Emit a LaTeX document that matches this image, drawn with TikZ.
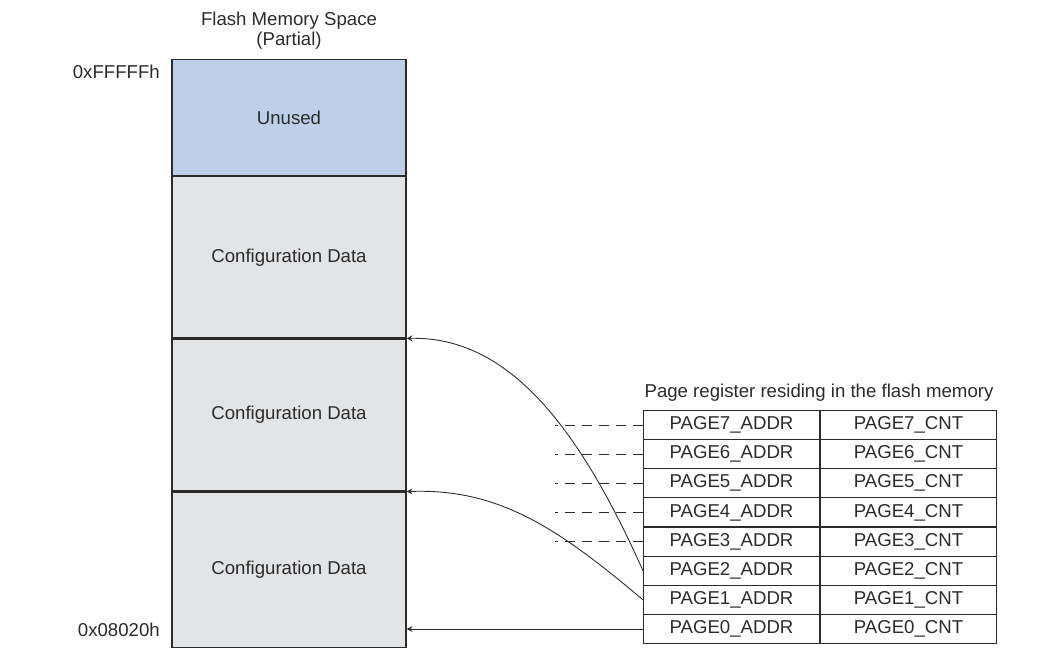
\documentclass[tikz,border=0pt]{standalone}
\usepackage{fontspec}
\setmainfont{Liberation Sans}
\usetikzlibrary{calc}
\definecolor{unusedblue}{HTML}{BDD0E7}
\definecolor{cfggray}{HTML}{E3E4E6}
\definecolor{inkgray}{HTML}{2B2B2B}
\tikzset{
  memblk/.style={draw=inkgray, line width=0.7pt, minimum width=4.68cm, anchor=north, inner sep=0pt},
  regcell/.style={draw=inkgray, line width=0.6pt, minimum width=3.52cm, minimum height=0.5825cm, anchor=north west, inner sep=0pt},
  dashline/.style={dash pattern=on 5.7pt off 4pt, draw=inkgray, line width=0.6pt},
  link/.style={->, draw=inkgray, line width=0.5pt}
}
\begin{document}
\begin{tikzpicture}[x=0.02cm, y=-0.02cm, >=stealth, font=\fontsize{10.6}{12}\selectfont, text=inkgray]

            \useasboundingbox (0,0) rectangle (1051,662);

            % flash memory space
            \node[align=center, font=\fontsize{10.6}{11.5}\selectfont] (title) at (289,31) {Flash Memory Space\\(Partial)};
            \coordinate (top) at (289,59);
            \node[memblk, fill=unusedblue, minimum height=2.32cm] (unused) at (top) {Unused};
            \node[memblk, fill=cfggray, minimum height=3.22cm] (cfgA) at (unused.south) {Configuration Data};
            \node[memblk, fill=cfggray, minimum height=3.04cm] (cfgB) at (cfgA.south) {Configuration Data};
            \node[memblk, fill=cfggray, minimum height=3.10cm] (cfgC) at (cfgB.south) {Configuration Data};

            \node[anchor=east] (addrhi) at (166,72) {0xFFFFFh};
            \node[anchor=east] (addrlo) at (166,630) {0x08020h};

            % page register
            \node (reglabel) at (819,393) {Page register residing in the flash memory};
            \foreach \i in {0,...,7} {
                \node[regcell] (addr\i) at (643,{410+(7-\i)*29.125}) {PAGE\i\_ADDR};
                \node[regcell] (cnt\i) at (addr\i.north east) {PAGE\i\_CNT};
            }
            \foreach \i in {3,...,7}
                \draw[dashline] (addr\i.west) -- ++(-88,0);

            % pointers
            \draw[link] (addr0.west) -- (addr0.west -| cfgC.east);
            \draw[link] (addr1.west) .. controls (560,530) and (500,488) .. (cfgB.south east);
            \draw[link] (addr2.west) .. controls (580,430) and (510,336) .. (cfgA.south east);

        \end{tikzpicture}
\end{document}
